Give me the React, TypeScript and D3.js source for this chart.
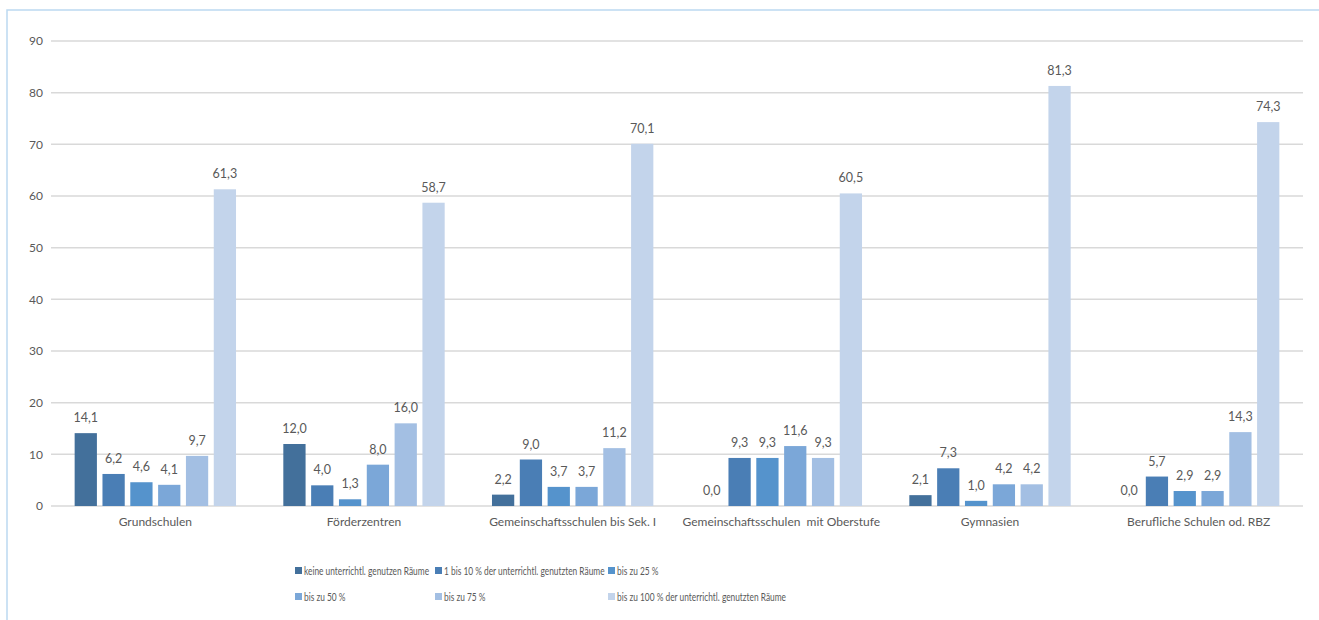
import React from "react";
import * as d3 from "d3";

// School types along the x axis
const categories = [
  "Grundschulen",
  "Förderzentren",
  "Gemeinschaftsschulen bis Sek. I",
  "Gemeinschaftsschulen  mit Oberstufe",
  "Gymnasien",
  "Berufliche Schulen od. RBZ",
];

// Share of schools (%) per group of unused rooms
const keineRaeume = [14.1, 12.0, 2.2, 0.0, 2.1, 0.0];
const bis10 = [6.2, 4.0, 9.0, 9.3, 7.3, 5.7];
const bis25 = [4.6, 1.3, 3.7, 9.3, 1.0, 2.9];
const bis50 = [4.1, 8.0, 3.7, 11.6, 4.2, 2.9];
const bis75 = [9.7, 16.0, 11.2, 9.3, 4.2, 14.3];
const bis100 = [61.3, 58.7, 70.1, 60.5, 81.3, 74.3];

const seriesNames = [
  "keine unterrichtl. genutzen Räume",
  "1 bis 10 % der unterrichtl. genutzten Räume",
  "bis zu 25 %",
  "bis zu 50 %",
  "bis zu 75 %",
  "bis zu 100 % der unterrichtl. genutzten Räume",
];
const seriesValues = [keineRaeume, bis10, bis25, bis50, bis75, bis100];
const seriesColors = ["#43709b", "#4a7eb5", "#5593cc", "#7ba7d8", "#a3bfe3", "#c3d4eb"];

const yTicks = [0, 10, 20, 30, 40, 50, 60, 70, 80, 90];

const W = 1319;
const H = 620;
const FONT = "Lato, 'Open Sans', sans-serif";
const TEXT = "#595959";

export default function App() {
  const left = 51;
  const right = 1303;
  const top = 41;
  const bottom = 506;

  const y = d3.scaleLinear().domain([0, 90]).range([bottom, top]);
  const x0 = d3.scaleBand<string>().domain(categories).range([left, right]).padding(0);
  const x1 = d3
    .scaleBand<string>()
    .domain(seriesNames)
    .range([0, x0.bandwidth()])
    .paddingInner(0.2)
    .paddingOuter(0.85);

  const fmt = (v: number) => v.toFixed(1).replace(".", ",");

  // legend layout: three columns, two rows
  const legendCols = [295, 435, 608];
  const legendRows = [571, 597];

  return (
    <svg
      width={W}
      height={H}
      style={{ position: "absolute", left: 0, top: 0, display: "block", background: "#fff" }}
      fontFamily={FONT}
    >
      <rect x={7} y={10} width={W + 20} height={H + 20} fill="none" stroke="#bcd9f1" strokeWidth={1.5} />

      {yTicks.map((t) => (
        <g key={t}>
          <line x1={left} x2={right} y1={y(t)} y2={y(t)} stroke="#d9d9d9" strokeWidth={1.5} />
          <text x={43} y={y(t)} dy="0.35em" textAnchor="end" fontSize={12} fill={TEXT}>
            {t}
          </text>
        </g>
      ))}

      {categories.map((c, ci) => (
        <g key={c} transform={`translate(${x0(c)},0)`}>
          {seriesNames.map((s, si) => {
            const v = seriesValues[si][ci];
            const bx = x1(s)!;
            const bw = x1.bandwidth();
            return (
              <g key={s}>
                <rect x={bx} y={y(v)} width={bw} height={y(0) - y(v)} fill={seriesColors[si]} />
                <text
                  x={bx + bw / 2}
                  y={y(v) - 11}
                  textAnchor="middle"
                  fontSize={12.5}
                  fill={TEXT}
                >
                  {fmt(v)}
                </text>
              </g>
            );
          })}
          <text
            x={x0.bandwidth() / 2}
            y={526}
            textAnchor="middle"
            fontSize={12}
            fill={TEXT}
            style={{ whiteSpace: "pre" }}
          >
            {c}
          </text>
        </g>
      ))}

      {seriesNames.map((s, i) => {
        const lx = legendCols[i % 3];
        const ly = legendRows[Math.floor(i / 3)];
        return (
          <g key={s}>
            <rect x={lx} y={ly - 4} width={7} height={7} fill={seriesColors[i]} />
            <text
              transform={`translate(${lx + 9},${ly}) scale(0.76,1)`}
              dy="0.35em"
              fontSize={11}
              fill={TEXT}
            >
              {s}
            </text>
          </g>
        );
      })}
    </svg>
  );
}
